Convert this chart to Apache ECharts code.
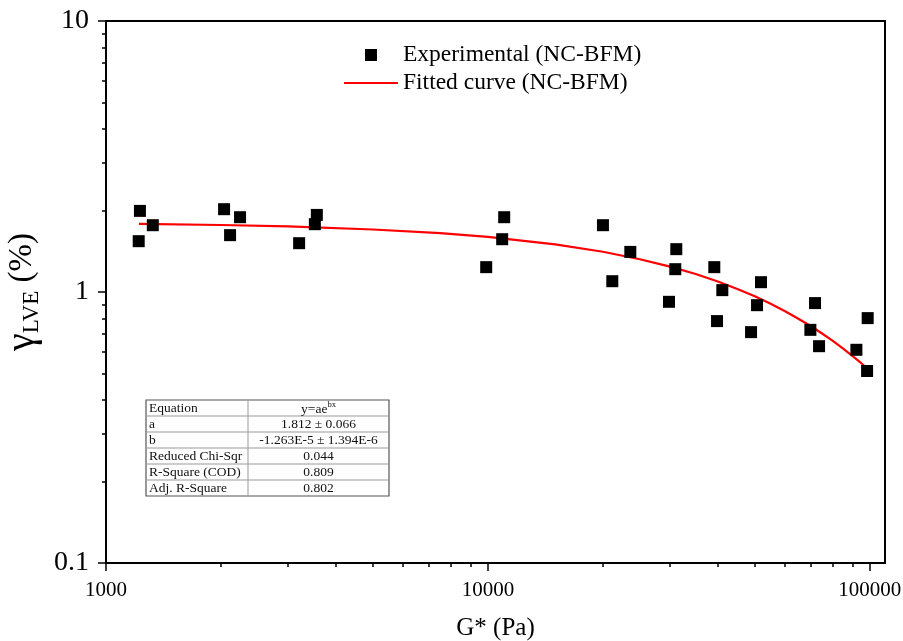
<!DOCTYPE html>
<html>
<head>
<meta charset="utf-8">
<script src="https://cdn.jsdelivr.net/npm/echarts@6/dist/echarts.min.js"></script>
<style>
  html, body { margin: 0; padding: 0; background: #fff; }
  #chart { width: 903px; height: 641px; }
</style>
</head>
<body>
<div id="chart"></div>
<script>
// Measured linear viscoelastic strain limit vs complex modulus (NC-BFM)
const gStar = [1227, 1218, 1326, 2038, 2113, 2244, 3204, 3565, 3523, 9898,
               10900, 11032, 20010, 21170, 23600, 29800, 31140, 30950, 39160, 41100,
               39810, 48870, 50670, 51900, 69890, 71880, 73640, 92240, 98740, 98380];
const gammaLVE = [1.992, 1.540, 1.764, 2.021, 1.621, 1.888, 1.514, 1.925, 1.779, 1.235,
                  1.566, 1.888, 1.764, 1.096, 1.406, 0.920, 1.439, 1.214, 1.235, 1.016,
                  0.781, 0.711, 0.894, 1.087, 0.725, 0.910, 0.631, 0.612, 0.801, 0.511];

// Fitted curve samples
const fitG = [1220, 2000, 3000, 5000, 7500, 10000, 15000, 20000, 25000, 30000, 35000,
              40000, 45000, 50000, 55000, 60000, 65000, 70000, 75000, 80000, 85000,
              90000, 95000, 98400];
const fitGamma = [1.784, 1.767, 1.745, 1.701, 1.648, 1.597, 1.499, 1.408, 1.321, 1.241, 1.165,
                  1.093, 1.026, 0.964, 0.905, 0.849, 0.797, 0.749, 0.703, 0.660, 0.619,
                  0.581, 0.546, 0.523];

// Axis ticks
const xMajorTicks = [1000, 10000, 100000];
const xMinorTicks = [2000, 3000, 4000, 5000, 6000, 7000, 8000, 9000,
                     20000, 30000, 40000, 50000, 60000, 70000, 80000, 90000];
const yMajorTicks = [0.1, 1, 10];
const yMinorTicks = [0.2, 0.3, 0.4, 0.5, 0.6, 0.7, 0.8, 0.9, 2, 3, 4, 5, 6, 7, 8, 9];
const xTickText = ['1000', '10000', '100000'];
const yTickText = ['0.1', '1', '10'];

// Fit summary table
const tableKeys = ['Equation', 'a', 'b', 'Reduced Chi-Sqr', 'R-Square (COD)', 'Adj. R-Square'];
const tableValues = ['{n|y=ae}{sup|bx}', '1.812 \u00b1 0.066', '-1.263E-5 \u00b1 1.394E-6', '0.044', '0.809', '0.802'];

const SERIF = "'Liberation Serif', 'Times New Roman', serif";
const X_MIN = 1000, X_MAX = 109600, Y_MIN = 0.1, Y_MAX = 10;

function pairs(xs, ys) { return xs.map((x, i) => [x, ys[i]]); }
function labelFor(values, texts) {
  return v => {
    for (let i = 0; i < values.length; i++) {
      if (Math.abs(v - values[i]) / values[i] < 1e-6) return texts[i];
    }
    return '';
  };
}

// Table drawn as graphic elements
const T = { x: 146, y: 400, w: 243, rowH: 16, split: 248 };
const tableChildren = [];
tableChildren.push({
  type: 'rect', shape: { x: T.x, y: T.y, width: T.w, height: T.rowH * tableKeys.length },
  style: { fill: '#fff', stroke: '#555', lineWidth: 1.2 }, z: 10
});
for (let i = 1; i < tableKeys.length; i++) {
  tableChildren.push({
    type: 'line', shape: { x1: T.x, y1: T.y + i * T.rowH, x2: T.x + T.w, y2: T.y + i * T.rowH },
    style: { stroke: '#999', lineWidth: 1 }, z: 11
  });
}
tableChildren.push({
  type: 'line', shape: { x1: T.split, y1: T.y, x2: T.split, y2: T.y + T.rowH * tableKeys.length },
  style: { stroke: '#999', lineWidth: 1 }, z: 11
});
tableKeys.forEach((k, i) => {
  tableChildren.push({
    type: 'text', x: T.x + 3, y: T.y + i * T.rowH + T.rowH / 2 + 0.5, z: 12,
    style: { text: k, fontFamily: SERIF, fontSize: 13.5, fill: '#111', verticalAlign: 'middle', align: 'left' }
  });
  tableChildren.push({
    type: 'text', x: (T.split + T.x + T.w) / 2, y: T.y + i * T.rowH + T.rowH / 2 + 0.5, z: 12,
    style: {
      text: tableValues[i], fontFamily: SERIF, fontSize: 13.5, fill: '#111',
      verticalAlign: 'middle', align: 'center',
      rich: {
        n: { fontFamily: SERIF, fontSize: 13.5, lineHeight: 16, verticalAlign: 'bottom' },
        sup: { fontFamily: SERIF, fontSize: 8.5, lineHeight: 9, verticalAlign: 'top' }
      }
    }
  });
});

const axisBlack = { color: '#000', width: 2 };

const option = {
  animation: false,
  backgroundColor: '#fff',
  grid: {
    left: 106, right: 18, top: 21, bottom: 78,
    show: true, borderColor: '#000', borderWidth: 2,
    containLabel: false, outerBoundsMode: 'none'
  },
  legend: {
    orient: 'vertical', left: 344, top: 43, padding: 0,
    itemWidth: 54, itemHeight: 12, itemGap: 4,
    textStyle: { fontFamily: SERIF, fontSize: 23.5, color: '#000', lineHeight: 24 },
    data: [
      { name: 'Experimental (NC-BFM)', icon: 'path://M0 0H10V10H0Z' },
      { name: 'Fitted curve (NC-BFM)', icon: 'path://M0 0H54V2H0Z' }
    ]
  },
  xAxis: [
    {
      type: 'log', logBase: 10, min: X_MIN, max: X_MAX,
      name: 'G* (Pa)', nameLocation: 'middle', nameGap: 53,
      nameTextStyle: { fontFamily: SERIF, fontSize: 25, color: '#000' },
      axisLine: { lineStyle: axisBlack },
      axisTick: { customValues: xMajorTicks, length: 8, lineStyle: { color: '#000', width: 1.5 } },
      axisLabel: {
        customValues: xMajorTicks, formatter: labelFor(xMajorTicks, xTickText),
        fontFamily: SERIF, fontSize: 21, color: '#000', margin: 17
      },
      splitLine: { show: false }
    },
    {
      type: 'log', logBase: 10, min: X_MIN, max: X_MAX, gridIndex: 0, position: 'bottom',
      axisLine: { show: false },
      axisTick: { customValues: xMinorTicks, length: 4, lineStyle: { color: '#000', width: 1.5 } },
      axisLabel: { show: false },
      splitLine: { show: false }
    }
  ],
  yAxis: [
    {
      type: 'log', logBase: 10, min: Y_MIN, max: Y_MAX,
      name: '{g|\u03b3}{s|LVE}{p| (%)}', nameLocation: 'middle', nameRotate: 90, nameGap: 49,
      nameTextStyle: {
        fontFamily: SERIF, color: '#000',
        rich: {
          g: { fontFamily: SERIF, fontSize: 40, lineHeight: 42, verticalAlign: 'middle', color: '#000' },
          s: { fontFamily: SERIF, fontSize: 23, lineHeight: 20, verticalAlign: 'bottom', color: '#000' },
          p: { fontFamily: SERIF, fontSize: 33, lineHeight: 42, verticalAlign: 'middle', color: '#000' }
        }
      },
      axisLine: { lineStyle: axisBlack },
      axisTick: { customValues: yMajorTicks, length: 8, lineStyle: { color: '#000', width: 1.5 } },
      axisLabel: {
        customValues: yMajorTicks, formatter: labelFor(yMajorTicks, yTickText),
        fontFamily: SERIF, fontSize: 28, color: '#000', margin: 17
      },
      splitLine: { show: false }
    },
    {
      type: 'log', logBase: 10, min: Y_MIN, max: Y_MAX, gridIndex: 0, position: 'left',
      axisLine: { show: false },
      axisTick: { customValues: yMinorTicks, length: 4, lineStyle: { color: '#000', width: 1.5 } },
      axisLabel: { show: false },
      splitLine: { show: false }
    }
  ],
  series: [
    {
      name: 'Fitted curve (NC-BFM)', type: 'line', xAxisIndex: 0, yAxisIndex: 0,
      data: pairs(fitG, fitGamma), symbol: 'none', showSymbol: false, smooth: false,
      lineStyle: { color: '#ff0000', width: 2.2 }, itemStyle: { color: '#ff0000' }, z: 3
    },
    {
      name: 'Experimental (NC-BFM)', type: 'scatter', xAxisIndex: 0, yAxisIndex: 0,
      data: pairs(gStar, gammaLVE), symbol: 'rect', symbolSize: 12,
      itemStyle: { color: '#000', opacity: 1 }, z: 4
    }
  ],
  graphic: [{ type: 'group', children: tableChildren }]
};

const chart = echarts.init(document.getElementById('chart'), null, { renderer: 'canvas' });
chart.setOption(option);
</script>
</body>
</html>
